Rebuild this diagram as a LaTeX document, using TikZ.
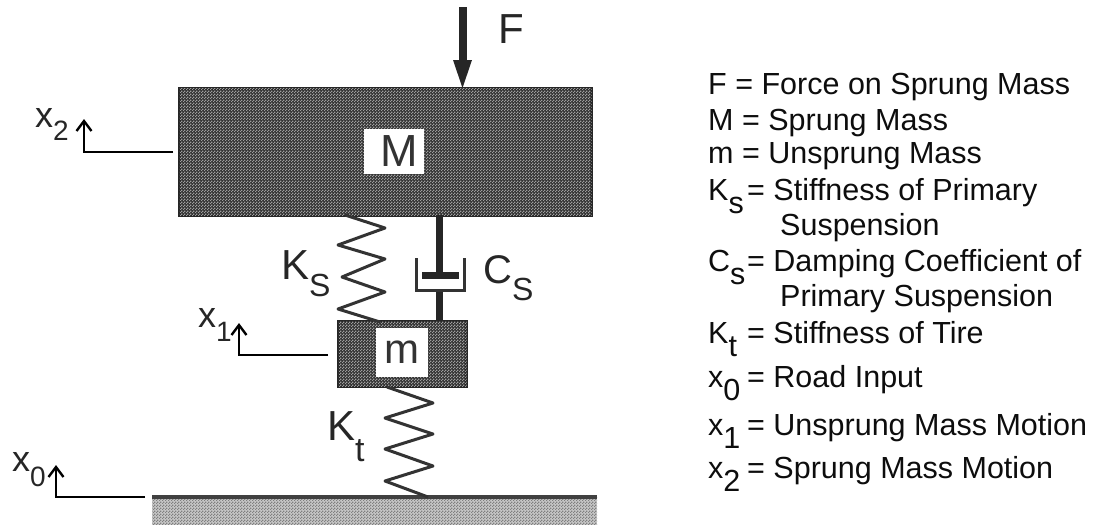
\documentclass[tikz,border=0pt]{standalone}
\usepackage{fontspec}
\setmainfont{Liberation Sans}
\usetikzlibrary{patterns,arrows.meta}
\pgfdeclarepatternformonly{chk}{\pgfpointorigin}{\pgfqpoint{3pt}{3pt}}{\pgfqpoint{3pt}{3pt}}{%
  \pgfpathrectangle{\pgfqpoint{0pt}{0pt}}{\pgfqpoint{1.5pt}{1.5pt}}%
  \pgfpathrectangle{\pgfqpoint{1.5pt}{1.5pt}}{\pgfqpoint{1.5pt}{1.5pt}}%
  \pgfusepath{fill}}
\newcommand{\fsz}[1]{\fontsize{#1}{#1}\selectfont}
\newcommand{\biglab}[5]{{\fsz{#1}#2}\raisebox{-#4pt}{\fsz{#3}#5}}
\newcommand{\keysym}[2]{\makebox[39pt][l]{#1\raisebox{-13pt}{#2}}}
\tikzset{
  x=1pt,y=-1pt,
  massbox/.style={draw=black!85,line width=3pt,fill=black!80,inner sep=0pt},
  dots/.style={pattern=chk,pattern color=black!38},
  spring/.style={draw=black!80,line width=3pt,line join=round},
  rod/.style={draw=black!85,line width=7pt},
  motion/.style={draw=black,line width=2.4pt,-{Straight Barb[length=10pt,width=15pt,line width=2.4pt]}},
  lab/.style={inner sep=0pt,anchor=base west,text=black!85},
  key/.style={anchor=base west,inner sep=0pt,font=\fsz{30.5},text=black!95},
  whitebox/.style={fill=white,inner sep=0pt,text=black!80,anchor=center}
}
\begin{document}
\begin{tikzpicture}
\useasboundingbox (0,0) rectangle (1093,525);
% ground
\fill[black!22] (152,497) rectangle (597,525);
\fill[pattern=chk,pattern color=black!50] (152,497) rectangle (597,525);
\coordinate (gl) at (152,497); \coordinate (gr) at (597,497);
\draw[draw=black!75,line width=4pt] (gl) -- (gr);
% masses
\node[massbox,minimum width=412pt,minimum height=127pt] (M) at (385.5,151.5) {};
\fill[dots] ([shift={(1.5,-1.5)}]M.south west) rectangle ([shift={(-1.5,1.5)}]M.north east);
\node[massbox,minimum width=128pt,minimum height=65pt] (m) at (402.5,353.5) {};
\fill[dots] ([shift={(1.5,-1.5)}]m.south west) rectangle ([shift={(-1.5,1.5)}]m.north east);
\node[whitebox,font=\fsz{45},minimum width=60pt,minimum height=45pt] (Mlabel) at (393.5,151.5) {\hspace{12pt}\raisebox{-2pt}{M}};
\node[whitebox,font=\fsz{42},minimum width=52pt,minimum height=49pt] (mlabel) at (401.5,352.5) {\raisebox{-2pt}{m}};
% force
\coordinate (Ftop) at (462.5,7);
\coordinate (Ftip) at (462.5,88);
\draw[rod,line width=8pt] (Ftop) -- (462.5,65);
\fill[black!85] (453,60) -- (472,60) -- (Ftip) -- cycle;
\node[lab,font=\fsz{42}] (Flabel) at (498,43) {F};
% springs
\draw[spring] (345,215) -- (385,228) -- (338,245) -- (385,259) -- (342,277) -- (385,292) -- (338,309) -- (380,322);
\draw[spring] (387,387) -- (433,403) -- (385,418) -- (433,434) -- (385,449) -- (433,466) -- (385,481) -- (428,497);
% damper
\draw[rod] (439.5,215) -- (439.5,275);
\draw[rod] (439.5,291) -- (439.5,321);
\draw[draw=black!85,line width=7pt] (422,275.5) -- (459,275.5);
\draw[draw=black!80,line width=3pt] (416,258) -- (416,290.5) -- (464,290.5) -- (464,258);
% element labels
\node[lab] (KS) at (281,279) {\biglab{42}{K}{32}{17}{S}};
\node[lab] (CS) at (483,283) {\biglab{40}{C}{32}{17}{S}};
\node[lab] (Kt) at (327,440) {\biglab{42}{K}{34}{21}{t}};
% motion
\coordinate (x2a) at (173,152);
\draw[motion] (x2a) -| (84,119);
\coordinate (x1a) at (328,355);
\draw[motion] (x1a) -| (239,323);
\coordinate (x0a) at (145,497);
\draw[motion] (x0a) -| (56,465);
\node[lab] (x2) at (35,127) {\biglab{36}{x}{28}{13}{2}};
\node[lab] (x1) at (198,327) {\biglab{36}{x}{28}{14}{1}};
\node[lab] (x0) at (12,471) {\biglab{36}{x}{28}{15}{0}};
% key
\node[key] (k1) at (708,94) {F = Force on Sprung Mass};
\node[key] (k2) at (708,130) {M = Sprung Mass};
\node[key] (k3) at (708,163) {m = Unsprung Mass};
\node[key] (k4) at (708,200) {\keysym{K}{s}= Stiffness of Primary};
\node[key] (k5) at (780,235) {Suspension};
\node[key] (k6) at (708,271) {\keysym{C}{s}= Damping Coefficient of};
\node[key] (k7) at (780,306) {Primary Suspension};
\node[key] (k8) at (708,343) {\keysym{K}{t}= Stiffness of Tire};
\node[key] (k9) at (708,387) {\keysym{x}{0}= Road Input};
\node[key] (k10) at (708,435) {\keysym{x}{1}= Unsprung Mass Motion};
\node[key] (k11) at (708,478) {\keysym{x}{2}= Sprung Mass Motion};
\end{tikzpicture}
\end{document}
